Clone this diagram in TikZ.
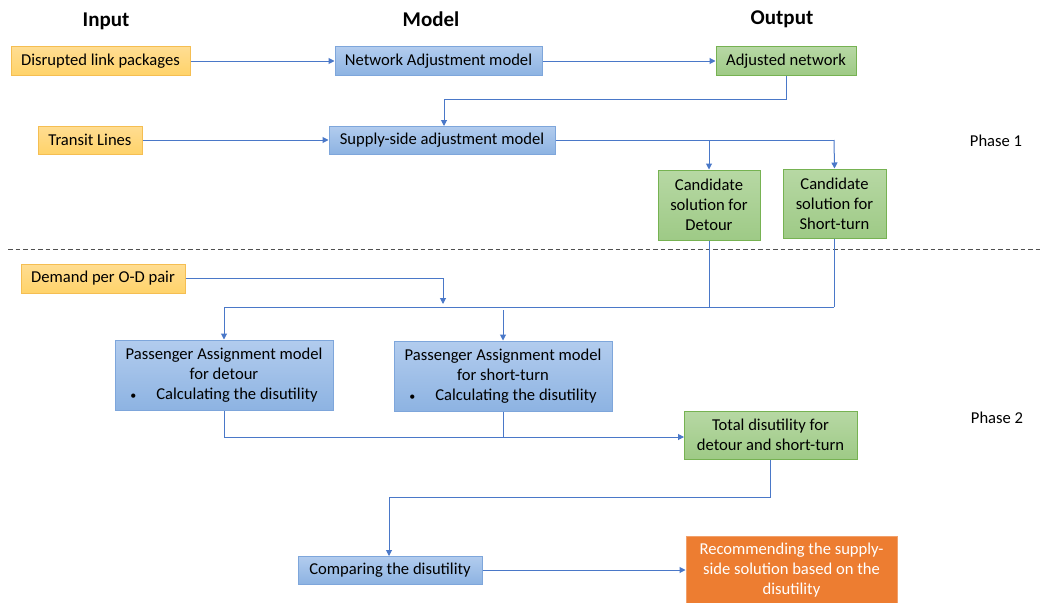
\documentclass[tikz,border=0pt]{standalone}
\usepackage{fontspec}
\setmainfont{Carlito}
\usetikzlibrary{arrows.meta}
\definecolor{conn}{HTML}{4A78C8}
\definecolor{bluetop}{HTML}{B2CCEE}
\definecolor{bluebot}{HTML}{8DB3E2}
\definecolor{blueedge}{HTML}{7EA6DB}
\definecolor{yeltop}{HTML}{FFDD92}
\definecolor{yelbot}{HTML}{FFD36A}
\definecolor{yeledge}{HTML}{F5BE52}
\definecolor{grntop}{HTML}{B7D8A4}
\definecolor{grnbot}{HTML}{9ECA86}
\definecolor{grnedge}{HTML}{76B252}
\definecolor{orgfill}{HTML}{ED7D31}
\definecolor{orgedge}{HTML}{F2A06A}
\definecolor{dashc}{HTML}{505050}
\newcommand{\bulletline}[1]{{\fontsize{12}{20}\selectfont\textbullet}\hspace{20pt}#1}
\tikzset{
  box/.style={draw, line width=1pt, inner sep=0pt, align=center,
    font=\fontsize{16.6}{20}\selectfont, text=black},
  inputbox/.style={box, draw=yeledge, top color=yeltop, bottom color=yelbot},
  modelbox/.style={box, draw=blueedge, top color=bluetop, bottom color=bluebot},
  outbox/.style={box, draw=grnedge, top color=grntop, bottom color=grnbot},
  finalbox/.style={box, draw=orgedge, fill=orgfill, text=white},
  heading/.style={font=\fontsize{21}{24}\selectfont\bfseries},
  phase/.style={font=\fontsize{16.6}{20}\selectfont},
  wire/.style={draw=conn, line width=1pt},
  arr/.style={wire, -{Triangle[length=6pt,width=6pt]}},
}
\begin{document}
\begin{tikzpicture}[x=1pt, y=-1pt]
\useasboundingbox (0,0) rectangle (1040,602);

% column headings
\node[heading] (hin) at (106,21) {Input};
\node[heading] (hmod) at (431,19) {Model};
\node[heading] (hout) at (782,19) {Output};

% phase 1 boxes
\node[inputbox, minimum width=179pt, minimum height=28pt] (disrupt) at (100.5,61) {Disrupted link packages};
\node[inputbox, minimum width=104pt, minimum height=28pt] (transit) at (90,140) {Transit Lines};
\node[modelbox, minimum width=207pt, minimum height=28pt] (netadj) at (438.5,61) {Network Adjustment model};
\node[modelbox, minimum width=226pt, minimum height=28pt] (supply) at (442,140) {Supply-side adjustment model};
\node[outbox, minimum width=140pt, minimum height=28pt] (adjnet) at (786,61) {Adjusted network};
\node[outbox, minimum width=102pt, minimum height=70pt] (cdet) at (709,205) {Candidate\\solution for\\Detour};
\node[outbox, minimum width=103pt, minimum height=69pt] (cst) at (834.5,203.5) {Candidate\\solution for\\Short-turn};
\node[phase] (ph1) at (996,141) {Phase 1};

% separator between the two phases
\coordinate (sepL) at (8,249);
\coordinate (sepR) at (1040,249);
\draw[dashc, line width=0.9pt, dash pattern=on 4.5pt off 3pt] (sepL) -- (sepR);

% phase 2 boxes
\node[inputbox, minimum width=164pt, minimum height=29pt] (demand) at (103,278.5) {Demand per O-D pair};
\node[modelbox, minimum width=218pt, minimum height=70pt] (padet) at (224,375)
  {Passenger Assignment model\\for detour\\\bulletline{Calculating the disutility}};
\node[modelbox, minimum width=218pt, minimum height=70pt] (past) at (503,376)
  {Passenger Assignment model\\for short-turn\\\bulletline{Calculating the disutility}};
\node[outbox, minimum width=173pt, minimum height=48pt] (total) at (770.5,435) {Total disutility for\\detour and short-turn};
\node[modelbox, minimum width=184pt, minimum height=28pt] (compare) at (390,570) {Comparing the disutility};
\node[finalbox, minimum width=211pt, minimum height=68pt] (recom) at (791.5,570)
  {Recommending the supply-\\side solution based on the\\disutility};
\node[phase] (ph2) at (997,418) {Phase 2};

% phase 1 connectors
\draw[arr] (disrupt.east) -- (netadj.west);
\draw[arr] (netadj.east) -- (adjnet.west);
\coordinate (supin) at (444,126);
\draw[arr] (adjnet.south) -- ++(0,24) -| (supin);
\draw[arr] (transit.east) -- (supply.west);
\coordinate (split) at (834,140);
\draw[wire] (supply.east) -- (split);
\draw[arr] (cdet.north |- split) -- (cdet.north);
\draw[arr] (split) -- (cst.north);

% phase 2 connectors
\coordinate (busL) at (224,307);
\coordinate (busR) at (834,307);
\draw[wire] (cdet.south) -- (cdet.south |- busR);
\draw[wire] (cst.south) -- (cst.south |- busR);
\draw[wire] (busL) -- (busR);
\coordinate (dmdDrop) at (443,304);
\draw[arr] (demand.east) -| (dmdDrop);
\draw[arr] (busL) -- (padet.north);
\coordinate (pastTap) at (503,310);
\draw[arr] (pastTap) -- (past.north);
\coordinate (sumL) at (224,437);
\coordinate (totIn) at (684,437);
\draw[wire] (padet.south) -- (sumL);
\draw[wire] (past.south) -- (past.south |- sumL);
\draw[arr] (sumL) -- (totIn);
\coordinate (cmpIn) at (389,556);
\draw[arr] (total.south) -- ++(0,38) -| (cmpIn);
\draw[arr] (compare.east) -- (recom.west);
\end{tikzpicture}
\end{document}
